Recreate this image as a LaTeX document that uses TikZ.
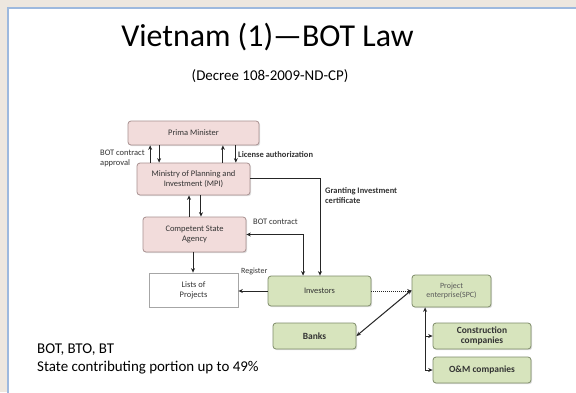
\documentclass[tikz,border=0pt]{standalone}
\usepackage{fontspec}
\setmainfont{Carlito}
\usetikzlibrary{arrows.meta,calc,shadows}
\definecolor{bgbeige}{HTML}{EDE7DF}
\definecolor{panelblue}{HTML}{9DB9DE}
\definecolor{pinkfill}{HTML}{F2DCDB}
\definecolor{pinkdraw}{HTML}{A89090}
\definecolor{greenfill}{HTML}{D7E4BD}
\definecolor{greendraw}{HTML}{7F8C6A}
\definecolor{txtgray}{HTML}{333333}
\tikzset{
  x=1bp,y=-1bp,
  box/.style={draw, rounded corners=3bp, line width=0.8pt, align=center, inner sep=1pt,
    font=\fontsize{8.5}{10}\selectfont, text=txtgray,
    drop shadow={opacity=0.25, shadow xshift=1.2bp, shadow yshift=-1.2bp}},
  pinkbox/.style={box, fill=pinkfill, draw=pinkdraw},
  greenbox/.style={box, fill=greenfill, draw=greendraw},
  whitebox/.style={box, fill=white, draw=gray!70, rounded corners=0pt},
  conn/.style={line width=1pt, draw=black!85, -{Stealth[length=4.5pt,width=4pt]}},
  dconn/.style={line width=1pt, draw=black!85, {Stealth[length=4.5pt,width=4pt]}-{Stealth[length=4.5pt,width=4pt]}},
  lbl/.style={font=\fontsize{8.5}{9.5}\selectfont, text=txtgray, align=left, inner sep=0pt},
}
\begin{document}
\begin{tikzpicture}
\useasboundingbox (0,0) rectangle (576,392);
\fill[bgbeige] (0,0) rectangle (576,392);
\fill[white] (8,8) rectangle (590,400);
\draw[panelblue, line width=2bp] (8,400) -- (8,8) -- (590,8);

\node[anchor=base, font=\fontsize{32}{36}\selectfont] (title) at (267.5,46) {Vietnam (1)—BOT Law};
\node[anchor=base, font=\fontsize{15}{17}\selectfont] (sub) at (270,80) {(Decree 108-2009-ND-CP)};

\node[pinkbox, minimum width=131bp, minimum height=24bp] (PM) at (193.5,133) {Prima Minister};
\node[pinkbox, minimum width=113bp, minimum height=32bp] (MPI) at (193.5,179) {Ministry of Planning and\\Investment (MPI)};
\node[pinkbox, minimum width=103bp, minimum height=35bp] (CSA) at (194.5,234.5) {Competent State\\Agency};
\node[whitebox, minimum width=89bp, minimum height=34bp] (Lists) at (193.5,290) {Lists of\\Projects};
\node[greenbox, minimum width=103bp, minimum height=30bp] (Inv) at (319.5,291) {Investors};
\node[greenbox, minimum width=79bp, minimum height=32bp, font=\fontsize{8}{9.5}\selectfont, text=black!65] (Proj) at (451.5,291) {Project\\enterprise(SPC)};
\node[greenbox, minimum width=83bp, minimum height=26bp, font=\fontsize{9.5}{10.5}\selectfont\bfseries] (Banks) at (314.5,336) {Banks};
\node[greenbox, minimum width=98bp, minimum height=26bp, font=\fontsize{9.5}{10}\selectfont\bfseries] (Constr) at (482,336) {Construction\\companies};
\node[greenbox, minimum width=98bp, minimum height=26bp, font=\fontsize{9.5}{10.5}\selectfont\bfseries] (OM) at (482,370) {O\&M companies};

% PM <-> MPI
\draw[conn] ([xshift=-43.5]MPI.north) -- ([xshift=-43.5]PM.south);
\draw[conn] ([xshift=-34.5]PM.south) -- ([xshift=-34.5]MPI.north);
\draw[conn] ([xshift=29.5]MPI.north) -- ([xshift=29.5]PM.south);
\draw[conn] ([xshift=42.5]PM.south) -- ([xshift=42.5]MPI.north);
\node[lbl, anchor=north west] (lbot) at (100,150) {BOT contract\\approval};
\node[lbl, anchor=west, font=\fontsize{8.5}{10}\selectfont\bfseries] (llic) at (238,155) {License authorization};

% MPI <-> CSA
\draw[conn] ([xshift=-5.5]CSA.north) -- ([xshift=-5.5]CSA.north |- MPI.south);
\draw[conn] ([xshift=7.5]MPI.south) -- ([xshift=7.5]MPI.south |- CSA.north);

% Granting
\draw[conn] ([yshift=1]MPI.east) -| ([xshift=0.5]Inv.north);
\node[lbl, anchor=north west, font=\fontsize{8.5}{10}\selectfont\bfseries] (lgrant) at (325,187) {Granting Investment\\certificate};

% BOT contract
\draw[dconn] (CSA.east) -| ([xshift=-16.5]Inv.north);
\node[lbl, anchor=west] (lbotc) at (253,222) {BOT contract};

% CSA -> Lists
\draw[conn] ([xshift=-1.5]CSA.south) -- ([xshift=-1.5]CSA.south |- Lists.north);

% Investors -> Lists
\draw[conn] (Inv.west) -- (Inv.west -| Lists.east);
\node[lbl, anchor=west, font=\fontsize{8}{9}\selectfont] (lreg) at (241,271) {Register};

% Investors -> Project (dotted)
\draw[conn, densely dotted] (Inv.east) -- (Inv.east -| Proj.west);

% Banks <-> Project
\draw[dconn] (Banks.east) -- ([yshift=1]Proj.west);

% Project <-> companies
\draw[dconn] ([xshift=-26.5]Proj.south) |- (OM.west);
\draw[conn] ([xshift=-26.5]Proj.south |- Constr.west) -- (Constr.west);

\node[anchor=base west, align=left, inner sep=0pt, font=\fontsize{15}{18}\selectfont] (note) at (37,371) {BOT, BTO, BT\\State contributing portion up to 49\%};
\end{tikzpicture}
\end{document}
